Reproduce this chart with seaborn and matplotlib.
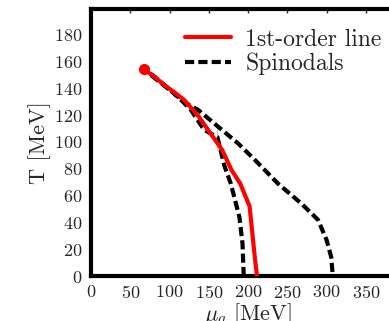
import matplotlib
matplotlib.use("Agg")
import matplotlib.pyplot as plt
import seaborn as sns
import pandas as pd

# Chiral phase diagram: first-order transition line and spinodals (mu_q, T in MeV)
first_order_mu = [67, 80, 93, 106, 119, 137, 155, 167, 179, 190, 202, 206, 209, 211.5]
first_order_T = [154, 149, 142.5, 137, 131, 119, 104, 94, 79, 69, 52, 29, 12, 0]

spinodal_mu = [194.5, 193, 189, 178, 170, 161, 144, 127, 110, 93, 80, 67,
               80, 93, 106, 120, 136, 161, 187, 208, 238, 268, 289, 300, 306, 308]
spinodal_T = [0, 24, 44, 69, 82, 94, 109, 124, 134, 142.5, 149, 154,
              149, 142.5, 136, 129, 124, 113, 99, 87, 69, 54, 42, 27, 14, 0]

cep_mu = [67]
cep_T = [154]

x_ticks = [0, 50, 100, 150, 200, 250, 300, 350]
y_ticks = [0, 20, 40, 60, 80, 100, 120, 140, 160, 180]

sns.set_style("white")
plt.rcParams["font.family"] = ["cmr10"]
plt.rcParams["mathtext.fontset"] = "cm"
plt.rcParams["axes.formatter.use_mathtext"] = True

fig = plt.figure(figsize=(3.89, 3.21), dpi=100)
ax = fig.add_axes([0.234, 0.14, 314 / 389, 0.832])

fo = pd.DataFrame({"mu": first_order_mu, "T": first_order_T})
sp = pd.DataFrame({"mu": spinodal_mu, "T": spinodal_T})

sns.lineplot(data=sp, x="mu", y="T", sort=False, ax=ax, color="black",
             lw=3.0, linestyle=(0, (2.2, 1.0)), label="Spinodals", zorder=2)
sns.lineplot(data=fo, x="mu", y="T", sort=False, ax=ax, color="red",
             lw=3.0, label="1st-order line", zorder=3)
ax.plot(cep_mu, cep_T, "o", color="red", ms=7, zorder=4)

ax.set_xlim(0, 400)
ax.set_ylim(0, 199)
ax.set_xticks(x_ticks)
ax.set_yticks(y_ticks)
ax.tick_params(direction="in", length=3, width=1, top=True, right=True,
               labelsize=13, pad=6)
for s in ax.spines.values():
    s.set_linewidth(3)
    s.set_color("black")

ax.set_xlabel(r"$\mu_q$ [MeV]", fontsize=16, labelpad=0)
ax.set_ylabel("T [MeV]", fontsize=16, labelpad=2)

handles, labels = ax.get_legend_handles_labels()
order = [labels.index("1st-order line"), labels.index("Spinodals")]
ax.legend([handles[i] for i in order], [labels[i] for i in order],
          loc="upper left", bbox_to_anchor=(0.24, 0.998), frameon=False,
          fontsize=17, handlelength=1.95, handletextpad=0.6, borderpad=0.3,
          labelspacing=0.08)

fig.savefig("out.png", dpi=100)
